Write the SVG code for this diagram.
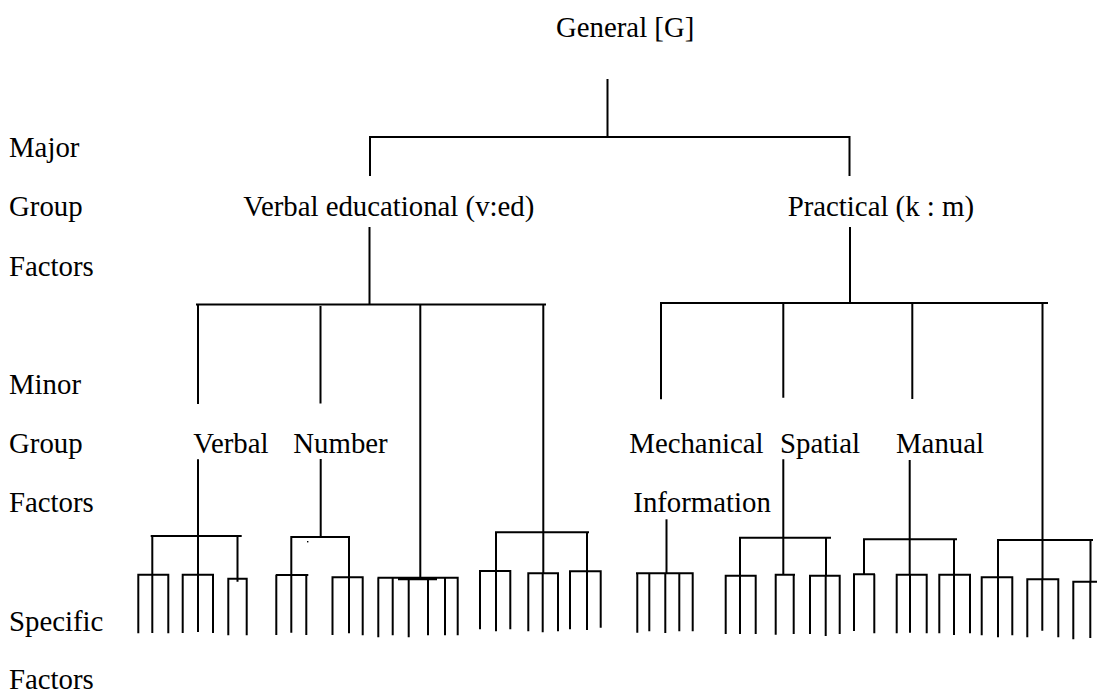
<svg xmlns="http://www.w3.org/2000/svg" width="1097" height="693" viewBox="0 0 1097 693">
  <style>
    text { font-family: "Liberation Serif", "Times New Roman", serif; font-size: 28.8px; fill: #000; }
    .ln { fill: none; stroke: #000; stroke-width: 2; }
  </style>
  <rect width="1097" height="693" fill="#fff"/>

  <!-- level captions down the left margin -->
  <g id="level-labels">
    <text x="9" y="157">Major</text>
    <text x="9" y="216">Group</text>
    <text x="9" y="276">Factors</text>
    <text x="9" y="394">Minor</text>
    <text x="9" y="453">Group</text>
    <text x="9" y="512">Factors</text>
    <text x="9" y="631">Specific</text>
    <text x="9" y="689">Factors</text>
  </g>

  <g id="general"><text x="556" y="37">General [G]</text></g>
  <g id="verbal-educational"><text x="243.3" y="216">Verbal educational (v:ed)</text></g>
  <g id="practical"><text x="787.7" y="216">Practical (k : m)</text></g>
  <g id="verbal"><text x="193.3" y="452.7">Verbal</text></g>
  <g id="number"><text x="293.3" y="452.7">Number</text></g>
  <g id="mechanical-information">
    <text x="629.3" y="452.7">Mechanical</text>
    <text x="633.3" y="511.7">Information</text>
  </g>
  <g id="spatial"><text x="780" y="452.7">Spatial</text></g>
  <g id="manual"><text x="896" y="452.7">Manual</text></g>

  <g id="connectors" class="ln">
    <!-- general factor split -->
    <path d="M607.5 79 V137 M369 137 H850.5 M370 137 V176 M849.5 137 V176"/>
    <path d="M369.5 227 V305 M850 227 V304"/>
    <!-- minor group splits -->
    <path d="M196 304.5 H546 M198 304.5 V404 M320.5 306 V403.5 M420.3 304.5 V580 M543.3 304.5 V573.3"/>
    <path d="M660 303 H1048 M661 303 V399.3 M783.3 303 V397.7 M912.3 303 V399 M1042.5 303 V579.3"/>
    <!-- branches below the minor groups -->
    <path d="M198 459.3 V574.7 M150.7 536 H241.7 M152.3 536 V574.7 M237.5 536 V581.7"/>
    <path d="M320.7 459 V537 M290.3 537 H350 M291.3 537 V575 M349 537 V633.3"/>
    <path d="M495 532.3 H589 M496 532.3 V571 M587 532.3 V571.3"/>
    <path d="M666.5 519.3 V573.3"/>
    <path d="M783.3 459.3 V574.7 M739 537.7 H831 M740 537.7 V575.7 M826 537.7 V575.7"/>
    <path d="M909.7 460 V574.7 M863 539.3 H957 M864 539.3 V574.3 M954 539.3 V574.7"/>
    <path d="M997 540 H1093 M998 540 V577.3 M1090.5 540 V581.7"/>
    <!-- specific factor combs -->
    <path d="M137.3 574.7 H169.3 M138.3 574.7 V633.3 M168.3 574.7 V633.3"/>
    <path d="M152.3 574.7 V633"/>
    <path d="M181.7 574.7 H214 M182.7 574.7 V633 M198 574.7 V632 M213 574.7 V633"/>
    <path d="M227.3 578.7 H247.7 M228.3 578.7 V635.3 M246.7 578.7 V635.3"/>
    <path d="M275.7 575 H308.3 M276.3 575 V635 M291.3 575 V632.7 M306.3 575 V635"/>
    <path d="M331.5 577.3 H363.7 M332.5 577.3 V635 M362.7 577.3 V635.3"/>
    <path d="M377.5 577.7 H458.7 M398 579.3 H437 M378.3 577.7 V637.3 M392.7 577.7 V635.3 M408.7 579.3 V637.3 M428 579.3 V635.3 M445 577.7 V635.3 M457.7 577.7 V635.3"/>
    <path d="M479 571 H511.3 M480 571 V629.3 M496 571 V631.3 M510.3 571 V629.3"/>
    <path d="M527.3 573.3 H559 M528.3 573.3 V631.3 M542.7 573.3 V632.3 M558 573.3 V631.3"/>
    <path d="M569 571.3 H601.7 M570 571.3 V629.3 M587 571.3 V630 M600.7 571.3 V627.7"/>
    <path d="M636 573.3 H693.7 M637.3 573.3 V632.7 M649.3 573.3 V631.3 M665.3 573.3 V633 M679.3 573.3 V631.3 M692.7 573.3 V631.3"/>
    <path d="M724.7 575.7 H756.7 M725.7 575.7 V634 M740 575.7 V634 M755.7 575.7 V634"/>
    <path d="M774.7 574.7 H795 M775.7 574.7 V634.7 M793.7 574.7 V634"/>
    <path d="M809 575.7 H840.7 M810 575.7 V634 M825.7 575.7 V636 M839.7 575.7 V634"/>
    <path d="M853 574.3 H875 M854 574.3 V631 M874.3 574.3 V633.3"/>
    <path d="M895.7 574.7 H927.7 M896.7 574.7 V633.3 M910 574.7 V632.7 M926.7 574.7 V633.3"/>
    <path d="M938.3 574.7 H971 M939.3 574.7 V633.3 M954 574.7 V635 M970 574.7 V633.3"/>
    <path d="M980.7 577.3 H1013.3 M981.7 577.3 V635.3 M998 577.3 V637.3 M1012.3 577.3 V635.3"/>
    <path d="M1026.3 579.3 H1059.3 M1027.3 579.3 V637.3 M1042.3 579.3 V630.7 M1058.3 579.3 V637.3"/>
    <path d="M1072.3 581.7 H1097 M1073.3 581.7 V639.3 M1090.3 581.7 V638"/>
  </g>
  <rect x="307" y="541" width="1.4" height="1.4" fill="#000"/>
</svg>
